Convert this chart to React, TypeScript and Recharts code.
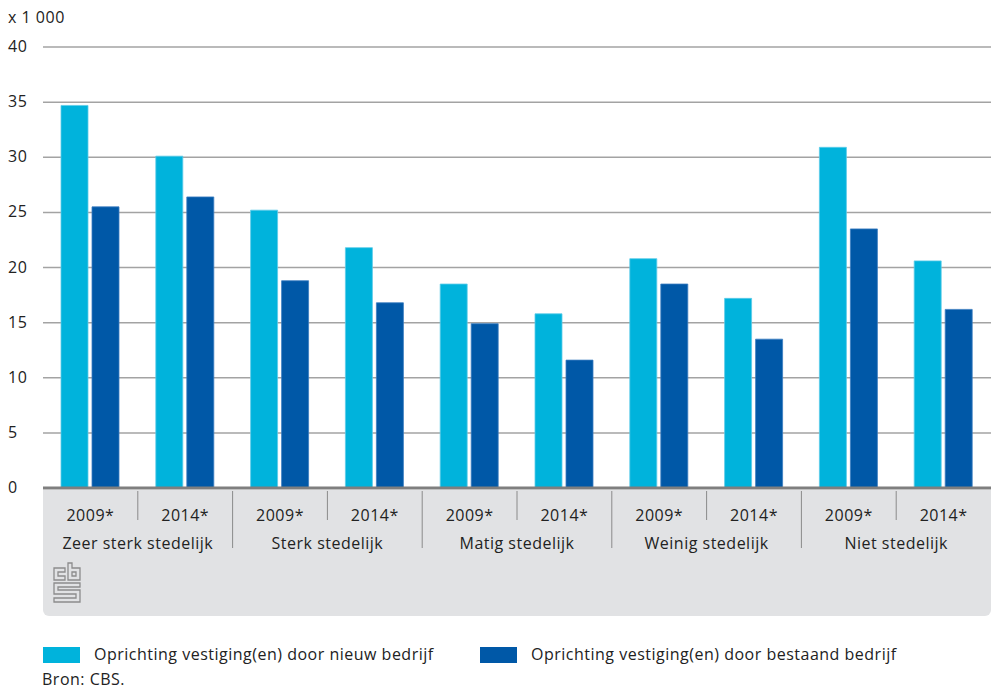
import React from "react";
import { BarChart, Bar, XAxis, YAxis, CartesianGrid } from "recharts";

const years = ["2009*", "2014*", "2009*", "2014*", "2009*", "2014*", "2009*", "2014*", "2009*", "2014*"];
const groups = ["Zeer sterk stedelijk", "Sterk stedelijk", "Matig stedelijk", "Weinig stedelijk", "Niet stedelijk"];
const nieuwBedrijf = [34.7, 30.1, 25.2, 21.8, 18.5, 15.8, 20.8, 17.2, 30.9, 20.6];
const bestaandBedrijf = [25.5, 26.4, 18.8, 16.8, 14.9, 11.6, 18.5, 13.5, 23.5, 16.2];
const yTicks = [0, 5, 10, 15, 20, 25, 30, 35, 40];
const seriesNames = ["Oprichting vestiging(en) door nieuw bedrijf", "Oprichting vestiging(en) door bestaand bedrijf"];

const data = years.map((y, i) => ({
  key: i,
  year: y,
  group: groups[Math.floor(i / 2)],
  nieuw: nieuwBedrijf[i],
  bestaand: bestaandBedrijf[i],
}));

const LIGHT = "#00b3dc";
const DARK = "#0058a7";
const TEXT = "#222";
const FONT = "'Open Sans', 'Noto Sans', sans-serif";
const FS = 16;
const LS = 0.5;
const PLOT_LEFT = 43;
const PLOT_RIGHT = 991;
const PLOT_BOTTOM = 488;
const XAXIS_H = 60;
const BAND = (PLOT_RIGHT - PLOT_LEFT) / years.length;

const YTick = (props: any) => {
  const { y, payload } = props;
  return (
    <text x={8} y={y} dy={5} textAnchor="start" fontSize={FS} letterSpacing={LS} fill={TEXT} fontFamily={FONT}>
      {payload.value}
    </text>
  );
};

const XTick = (props: any) => {
  const { x, payload, index } = props;
  const i = typeof index === "number" ? index : payload.index;
  const right = x + BAND / 2;
  const isLast = i === years.length - 1;
  return (
    <g>
      <text x={x} y={PLOT_BOTTOM + 33} textAnchor="middle" fontSize={FS} letterSpacing={LS} fill={TEXT} fontFamily={FONT}>
        {years[i]}
      </text>
      {i % 2 === 0 && (
        <text x={right} y={PLOT_BOTTOM + 61} textAnchor="middle" fontSize={FS} letterSpacing={LS} fill={TEXT} fontFamily={FONT}>
          {groups[Math.floor(i / 2)]}
        </text>
      )}
      {!isLast && (
        <line
          x1={right}
          x2={right}
          y1={PLOT_BOTTOM + 3}
          y2={i % 2 === 0 ? PLOT_BOTTOM + 32 : PLOT_BOTTOM + 60}
          stroke="#8a8a8a"
          strokeWidth={1}
        />
      )}
    </g>
  );
};

const Logo = () => (
  <svg width={30} height={42} style={{ position: "absolute", left: 53, top: 562 }} viewBox="0 0 30 42">
    <g fill="none" stroke="#8c8c8c" strokeWidth={1.3}>
      <path d="M1 6 H12 V10 H5 V14 H12 V18 H1 Z" />
      <path d="M15 1 H19 V6 H27 V18 H15 Z M19 10 V14 H23 V10 Z" />
      <path d="M1 21 H27 V25 H5 V28 H27 V40 H1 V36 H23 V32 H1 Z" />
    </g>
  </svg>
);

const textStyle: React.CSSProperties = {
  position: "absolute",
  fontSize: FS,
  lineHeight: "19px",
  letterSpacing: LS,
  color: TEXT,
  whiteSpace: "nowrap",
};

export default function App() {
  return (
    <div style={{ position: "absolute", left: 0, top: 0, width: 991, height: 691, background: "#fff", fontFamily: FONT, overflow: "hidden" }}>
      <div
        style={{
          position: "absolute",
          left: PLOT_LEFT,
          top: PLOT_BOTTOM + 2,
          width: PLOT_RIGHT - PLOT_LEFT,
          height: 126,
          background: "#e1e2e4",
          borderRadius: "0 0 6px 6px",
        }}
      />
      <Logo />
      <div style={{ ...textStyle, left: 8, top: 8 }}>x 1 000</div>
      <div style={{ position: "absolute", left: 0, top: 0 }}>
        <BarChart
          width={991}
          height={691}
          data={data}
          margin={{ top: 47, right: 0, left: 0, bottom: 691 - PLOT_BOTTOM - XAXIS_H }}
          barSize={27}
          barGap={4}
        >
          <CartesianGrid vertical={false} stroke="#a3a3a3" strokeWidth={1.5} />
          <YAxis
            width={PLOT_LEFT}
            domain={[0, 40]}
            ticks={yTicks}
            axisLine={false}
            tickLine={false}
            tick={<YTick />}
            interval={0}
          />
          <XAxis
            dataKey="key"
            axisLine={{ stroke: "#7f7f7f", strokeWidth: 3 }}
            tickLine={false}
            tick={<XTick />}
            interval={0}
            height={XAXIS_H}
          />
          <Bar dataKey="nieuw" name={seriesNames[0]} fill={LIGHT} stroke="#5ccbe8" strokeWidth={0.8} isAnimationActive={false} />
          <Bar dataKey="bestaand" name={seriesNames[1]} fill={DARK} stroke="#3a7cc0" strokeWidth={0.8} isAnimationActive={false} />
        </BarChart>
      </div>
      <div style={{ position: "absolute", left: 43, top: 647, width: 37, height: 16, background: LIGHT }} />
      <div style={{ ...textStyle, left: 94, top: 645 }}>{seriesNames[0]}</div>
      <div style={{ position: "absolute", left: 480, top: 647, width: 37, height: 16, background: DARK }} />
      <div style={{ ...textStyle, left: 531, top: 645 }}>{seriesNames[1]}</div>
      <div style={{ ...textStyle, left: 42, top: 670 }}>Bron: CBS.</div>
    </div>
  );
}
